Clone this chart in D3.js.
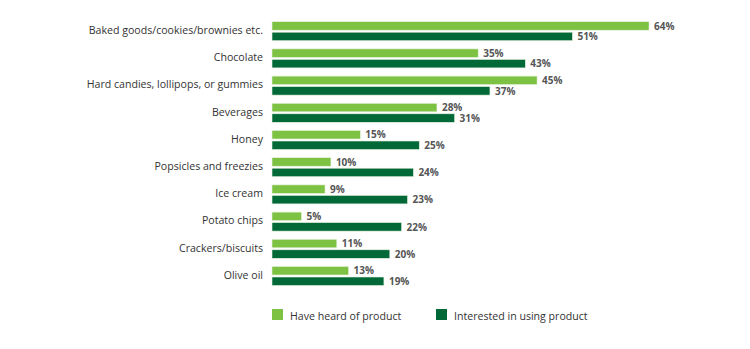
<!DOCTYPE html>
<html><head><meta charset="utf-8">
<script src="https://cdn.jsdelivr.net/npm/d3@7"></script>
<style>body{margin:0;background:#fff;}svg{display:block;font-family:"Open Sans",sans-serif;}</style>
</head><body><svg id="c" width="750" height="349"></svg>
<script>
const categories = ["Baked goods/cookies/brownies etc.","Chocolate","Hard candies, lollipops, or gummies","Beverages","Honey","Popsicles and freezies","Ice cream","Potato chips","Crackers/biscuits","Olive oil"];
const heard = [64,35,45,28,15,10,9,5,11,13];
const interested = [51,43,37,31,25,24,23,22,20,19];
const seriesNames = ["Have heard of product","Interested in using product"];
const colors = ["#7dc242","#006937"];

const svg = d3.select("#c");
const x = d3.scaleLinear().domain([0,64]).range([272,649]);
const y = d3.scaleBand().domain(categories).range([20.5,292.5]).paddingInner(0);
const barH = 8.5, gap = 2;
const groupH = barH*2+gap;

const g = svg.append("g");
categories.forEach((c,i)=>{
  const top = y(c) + 1.2;
  const vals = [heard[i], interested[i]];
  vals.forEach((v,k)=>{
    const yy = top + k*(barH+gap);
    g.append("rect").attr("x",x(0)).attr("y",yy).attr("width",x(v)-x(0)).attr("height",barH)
      .attr("fill",colors[k]).attr("stroke","#e6f0dc").attr("stroke-width",0.6);
    g.append("text").attr("x",x(v)+5).attr("y",yy+barH/2+1).attr("dominant-baseline","middle")
      .attr("font-size",10).attr("font-weight",700).attr("fill","#555").text(v+"%");
  });
  g.append("text").attr("x",263).attr("y",top+groupH/2).attr("dominant-baseline","middle")
    .attr("text-anchor","end").attr("font-size",10.6).attr("fill","#333").text(c);
});

const legX = [272,436];
seriesNames.forEach((s,k)=>{
  svg.append("rect").attr("x",legX[k]).attr("y",309).attr("width",11).attr("height",11).attr("fill",colors[k]);
  svg.append("text").attr("x",legX[k]+18).attr("y",317.5).attr("dominant-baseline","middle")
    .attr("font-size",10.6).attr("fill","#333").text(s);
});
</script></body></html>
